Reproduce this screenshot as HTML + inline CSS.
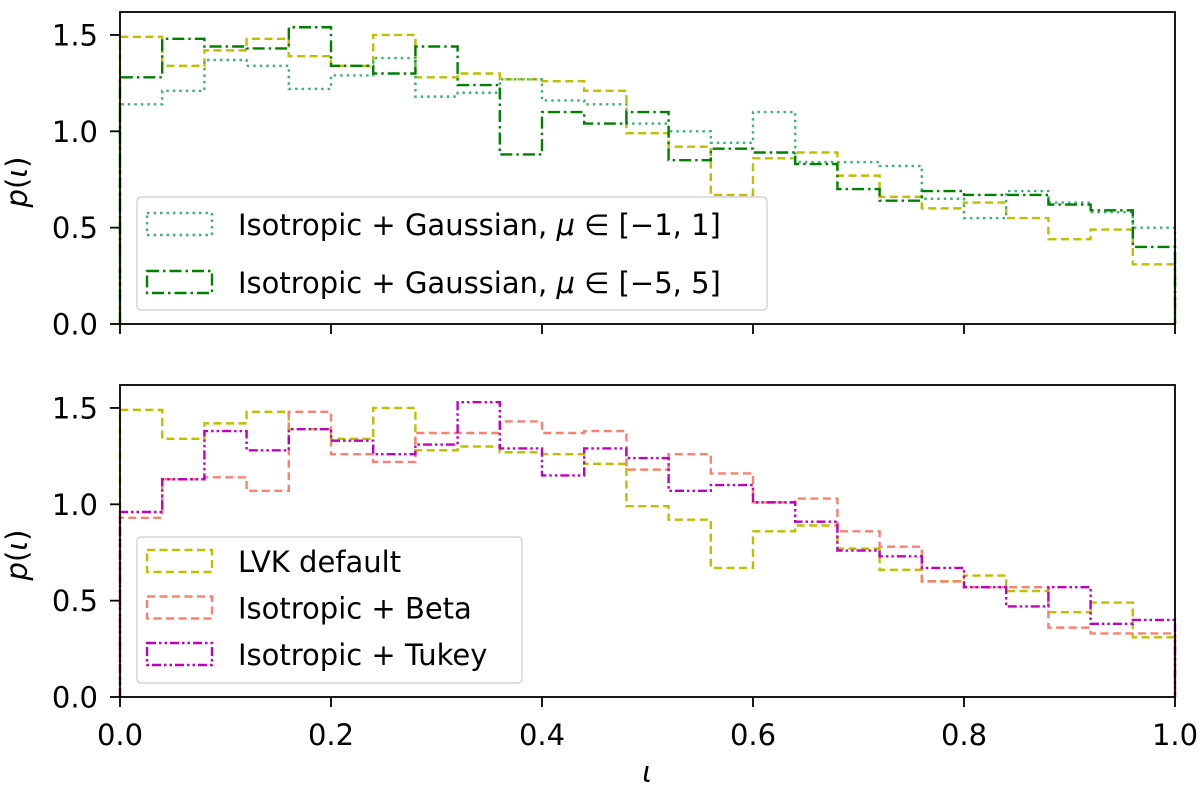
<!DOCTYPE html>
<html><head><meta charset="utf-8">
<style>
body{margin:0;background:#fff;}
svg{display:block;font-family:"DejaVu Sans","Liberation Sans",sans-serif;}
</style></head>
<body>
<svg id="fig" width="1200" height="789" viewBox="0 0 1200 789" xmlns="http://www.w3.org/2000/svg">
<g id="top"></g>
<g id="bot"></g>
</svg>
<script>
const binEdges = [0,0.04,0.08,0.12,0.16,0.2,0.24,0.28,0.32,0.36,0.4,0.44,0.48,0.52,0.56,0.6,0.64,0.68,0.72,0.76,0.8,0.84,0.88,0.92,0.96,1.0];
const lvk = [1.49,1.34,1.42,1.48,1.39,1.34,1.50,1.28,1.30,1.27,1.26,1.21,0.99,0.92,0.67,0.86,0.89,0.77,0.66,0.60,0.63,0.55,0.44,0.49,0.31];
const gauss1 = [1.14,1.21,1.37,1.34,1.22,1.29,1.38,1.18,1.20,1.27,1.16,1.14,1.04,1.00,0.94,1.10,0.84,0.84,0.82,0.65,0.55,0.69,0.63,0.58,0.50];
const gauss5 = [1.28,1.48,1.44,1.43,1.54,1.34,1.30,1.44,1.24,0.88,1.10,1.04,1.10,0.85,0.91,0.89,0.83,0.70,0.64,0.69,0.67,0.67,0.62,0.59,0.40];
const beta = [0.93,1.13,1.14,1.07,1.48,1.26,1.22,1.37,1.37,1.43,1.37,1.38,1.18,1.26,1.16,1.01,1.03,0.86,0.78,0.60,0.57,0.57,0.36,0.33,0.33];
const tukey = [0.96,1.13,1.38,1.28,1.39,1.33,1.26,1.31,1.53,1.29,1.15,1.29,1.24,1.07,1.10,1.01,0.91,0.76,0.73,0.67,0.57,0.47,0.57,0.38,0.40];
const xTicks = [0,0.2,0.4,0.6,0.8,1.0];
const xTickLabels = ["0.0","0.2","0.4","0.6","0.8","1.0"];
const yTicks = [0,0.5,1.0,1.5];
const yTickLabels = ["0.0","0.5","1.0","1.5"];

const NS = "http://www.w3.org/2000/svg";
const X0 = 120, X1 = 1175;
const FS = 29;
const xs = v => X0 + v*(X1-X0);
function mk(tag, attrs, parent){const e=document.createElementNS(NS,tag);for(const k in attrs)e.setAttribute(k,attrs[k]);parent.appendChild(e);return e;}

const styles = {
  lvk:{stroke:"#bfbf00",dash:"8,4.5"},
  gauss1:{stroke:"#3cb371",dash:"2.5,4"},
  gauss5:{stroke:"#008000",dash:"12,4,2.5,4"},
  beta:{stroke:"#fa8072",dash:"8,4.5"},
  tukey:{stroke:"#bf00bf",dash:"9,3,2.5,3,2.5,3"}
};

function panel(g, frameTop, yBot, series, showXLabels, legend){
  const yScale = v => yBot - v*192.7;
  series.forEach(([name,vals])=>{
    let d = `M${xs(binEdges[0])},${yScale(0)}`;
    vals.forEach((v,i)=>{d+=` L${xs(binEdges[i])},${yScale(v)} L${xs(binEdges[i+1])},${yScale(v)}`;});
    d += ` L${xs(binEdges[binEdges.length-1])},${yScale(0)}`;
    const p = mk("path",{d,fill:"none",stroke:styles[name].stroke,"stroke-width":2.4,"stroke-dasharray":styles[name].dash},g);
    
    
  });
  const fr = mk("rect",{x:X0,y:frameTop,width:X1-X0,height:yBot-frameTop,fill:"none",stroke:"#000","stroke-width":1.8},g);
  
  
  yTicks.forEach((t,i)=>{
    const y = yScale(t);
    mk("line",{x1:X0-10,x2:X0,y1:y,y2:y,stroke:"#000","stroke-width":1.8},g);
    const tx = mk("text",{x:X0-22,y:y+10.5,"text-anchor":"end","font-size":FS},g);
    tx.textContent = yTickLabels[i];
    
    
  });
  xTicks.forEach((t,i)=>{
    const x = xs(t);
    mk("line",{x1:x,x2:x,y1:yBot,y2:yBot+10,stroke:"#000","stroke-width":1.8},g);
    if(showXLabels){
      const tx = mk("text",{x:x,y:yBot+48,"text-anchor":"middle","font-size":FS},g);
      tx.textContent = xTickLabels[i];
      
      
    }
  });
  const yl = mk("text",{x:0,y:0,"font-size":FS,"text-anchor":"middle",transform:`translate(27,${(frameTop+yBot)/2+14}) rotate(-90)`},g);
  yl.innerHTML = '<tspan font-style="italic">p</tspan>(<tspan font-style="italic">ι</tspan>)';
  
  
  const lg = mk("g",{},g);
  
  
  mk("rect",{x:legend.x,y:legend.y,width:legend.w,height:legend.h,rx:4,fill:"#fff","fill-opacity":0.85,stroke:"#ccc","stroke-width":1.2},lg);
  legend.items.forEach((it,i)=>{
    const cy = legend.y0 + i*legend.dy;
    const e = mk("g",{},lg);
    
    
    mk("rect",{x:legend.x+10,y:cy-11,width:65,height:22,fill:"none",stroke:styles[it[0]].stroke,"stroke-width":2.4,"stroke-dasharray":styles[it[0]].dash},e);
    const t = mk("text",{x:legend.x+101,y:cy+11,"font-size":FS},e);
    t.innerHTML = it[1];
  });
}

panel(document.getElementById('top'), 12, 324, [["lvk",lvk],["gauss1",gauss1],["gauss5",gauss5]], false,
  {x:137,y:197,w:630,h:113,y0:224,dy:58,items:[
    ["gauss1",'Isotropic + Gaussian, <tspan font-style="italic">μ</tspan> ∈ [−1, 1]'],
    ["gauss5",'Isotropic + Gaussian, <tspan font-style="italic">μ</tspan> ∈ [−5, 5]']]});
panel(document.getElementById('bot'), 385, 697, [["lvk",lvk],["beta",beta],["tukey",tukey]], true,
  {x:137,y:537,w:385,h:146,y0:561,dy:46.5,items:[
    ["lvk","LVK default"],["beta","Isotropic + Beta"],["tukey","Isotropic + Tukey"]]});

const xl = document.createElementNS(NS,"text");
xl.setAttribute('x',647);xl.setAttribute('y',782);xl.setAttribute('font-size',FS);xl.setAttribute('text-anchor','middle');xl.setAttribute('font-style','italic');
xl.textContent='ι';


document.getElementById('fig').appendChild(xl);
</script>
</body></html>
